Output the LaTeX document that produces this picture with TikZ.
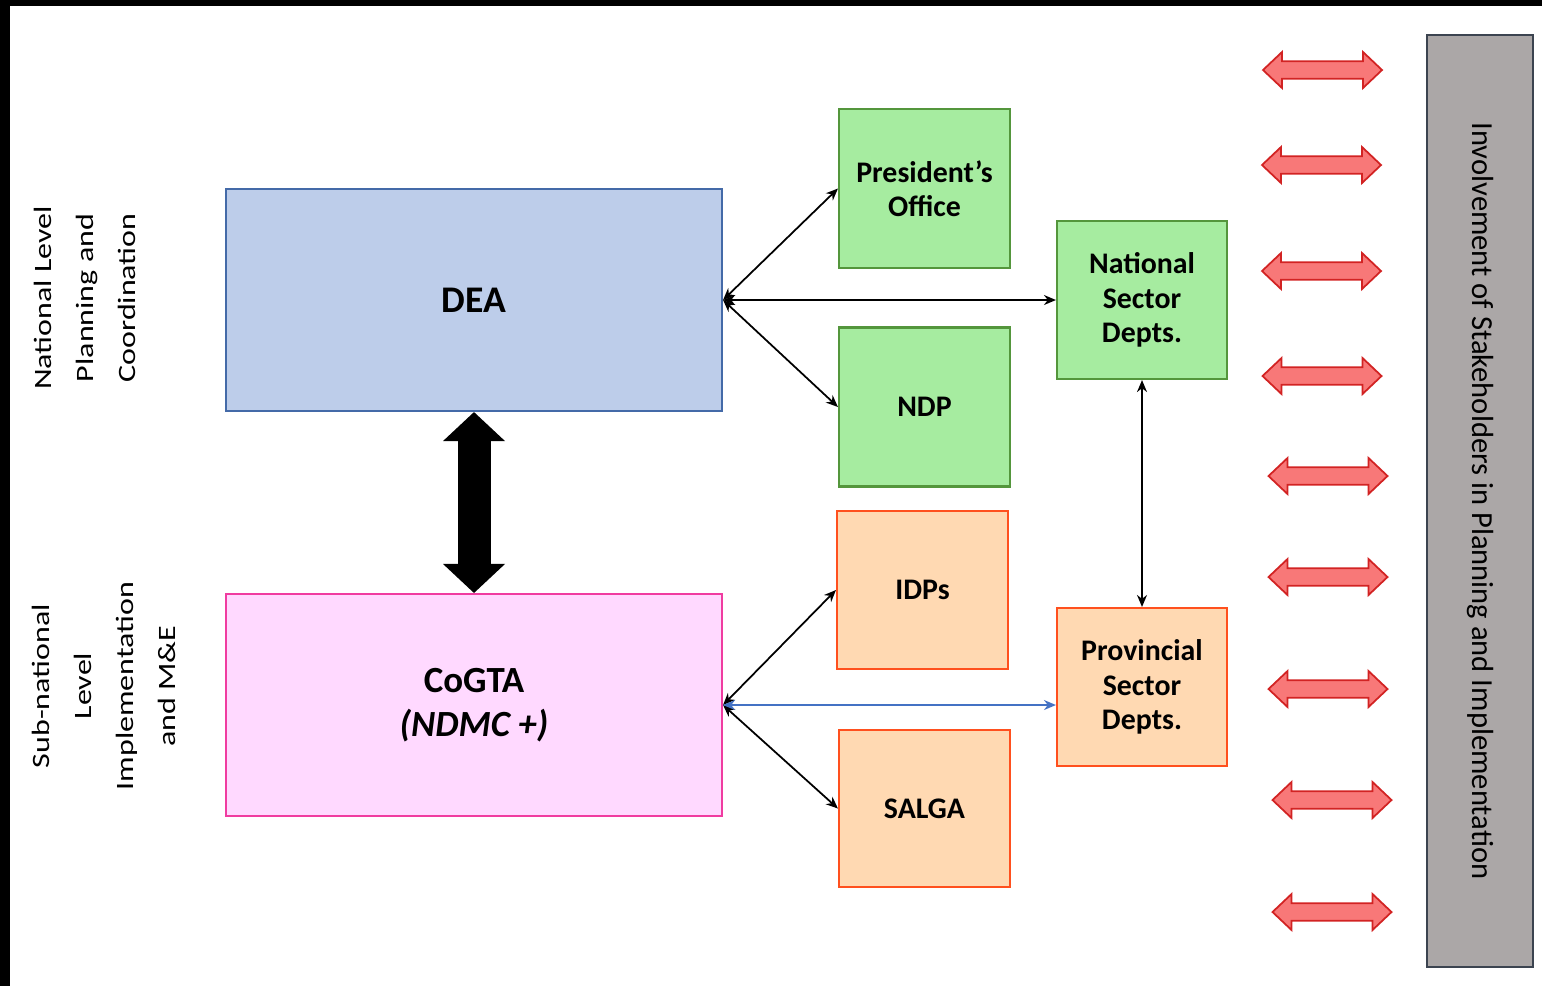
\documentclass[tikz,border=0pt]{standalone}
\usepackage{fontspec}
\setmainfont{Carlito}
\usetikzlibrary{arrows.meta}

\definecolor{deafill}{RGB}{189,205,234}
\definecolor{deaedge}{RGB}{68,106,168}
\definecolor{cogfill}{RGB}{255,217,255}
\definecolor{cogedge}{RGB}{240,60,160}
\definecolor{natfill}{RGB}{166,236,160}
\definecolor{natedge}{RGB}{84,150,60}
\definecolor{provfill}{RGB}{255,217,178}
\definecolor{provedge}{RGB}{255,80,30}
\definecolor{invfill}{RGB}{171,167,167}
\definecolor{invedge}{RGB}{60,68,80}
\definecolor{stakefill}{RGB}{248,120,120}
\definecolor{stakeedge}{RGB}{210,35,35}
\definecolor{lineblue}{RGB}{68,114,196}

\begin{document}
\begin{tikzpicture}[
  box/.style={draw, line width=0.6pt, inner sep=0pt, align=center,
    font=\fontsize{8.5}{9.8}\selectfont\bfseries},
  bigbox/.style={box, minimum width=4.96cm, minimum height=2.22cm},
  natbox/.style={box, fill=natfill, draw=natedge, minimum width=1.71cm, minimum height=1.59cm},
  provbox/.style={box, fill=provfill, draw=provedge, minimum width=1.71cm, minimum height=1.58cm},
  lvl/.style={rotate=90, yscale=0.78, transform shape, align=center,
    font=\fontsize{9.1}{15.4}\selectfont},
  link/.style={line width=0.5pt, arrows={Stealth[length=1.2mm,width=1mm]-Stealth[length=1.2mm,width=1mm]}},
  stakearrow/.pic={
    \draw[fill=stakefill, draw=stakeedge, line width=0.5pt, line join=miter]
      (-0.595,0) -- (-0.405,0.18) -- (-0.405,0.088) -- (0.405,0.088) -- (0.405,0.18)
      -- (0.595,0) -- (0.405,-0.18) -- (0.405,-0.088) -- (-0.405,-0.088)
      -- (-0.405,-0.18) -- cycle;
  }
]
  \useasboundingbox (0,0) rectangle (15.42,-9.86);
  \fill[black] (0,0) rectangle (15.42,-0.06);
  \fill[black] (0,0) rectangle (0.10,-9.86);

  % level labels
  \node[lvl] (natlvl) at (0.85,-2.98) {National Level\\Planning and\\Coordination};
  \node[lvl] (sublvl) at (1.04,-6.86) {Sub-national\\Level\\Implementation\\and M\&E};

  % main boxes
  \node[bigbox, fill=deafill, draw=deaedge, font=\fontsize{10.7}{12}\selectfont\bfseries]
    (dea) at (4.74,-3.00) {DEA};
  \node[bigbox, fill=cogfill, draw=cogedge, font=\fontsize{10.5}{12.5}\selectfont\bfseries]
    (cogta) at (4.74,-7.05) {CoGTA\\\textit{(NDMC +)}};

  \node[natbox] (pres) at (9.245,-1.885) {President’s\\Office};
  \node[natbox] (ndp) at (9.245,-4.07) {NDP};
  \node[natbox, minimum width=1.70cm, minimum height=1.58cm] (nsd) at (11.42,-3.00)
    {National\\Sector\\Depts.};
  \node[provbox] (idp) at (9.225,-5.90) {IDPs};
  \node[provbox, minimum height=1.57cm] (salga) at (9.245,-8.085) {SALGA};
  \node[provbox, minimum width=1.70cm] (psd) at (11.42,-6.87) {Provincial\\Sector\\Depts.};

  \node[draw=invedge, fill=invfill, line width=0.6pt, rotate=-90, minimum width=9.32cm,
    minimum height=1.06cm, inner sep=0pt, font=\fontsize{8.7}{10}\selectfont]
    (inv) at (14.80,-5.01) {Involvement of Stakeholders in Planning and Implementation};

  % connectors
  \draw[line width=0.33cm,
    arrows={Triangle[width=0.62cm,length=0.29cm,line width=0pt]-Triangle[width=0.62cm,length=0.29cm,line width=0pt]}]
    (dea.south) -- (cogta.north);
  \draw[link] (dea.east) -- (pres.west);
  \draw[link] (dea.east) -- (ndp.west);
  \draw[link] (dea.east) -- (nsd.west);
  \draw[link] (nsd.south) -- (psd.north);
  \draw[link] (cogta.east) -- (idp.west);
  \draw[link] (cogta.east) -- (salga.west);
  \draw[link, draw=lineblue] (cogta.east) -- (cogta.east -| psd.west);

  % stakeholder arrows
  \foreach \x/\y in {13.225/0.70, 13.215/1.65, 13.215/2.71, 13.22/3.76, 13.28/4.76,
      13.28/5.77, 13.28/6.89, 13.32/8.00, 13.32/9.12}
    \pic at (\x,-\y) {stakearrow};
\end{tikzpicture}
\end{document}
